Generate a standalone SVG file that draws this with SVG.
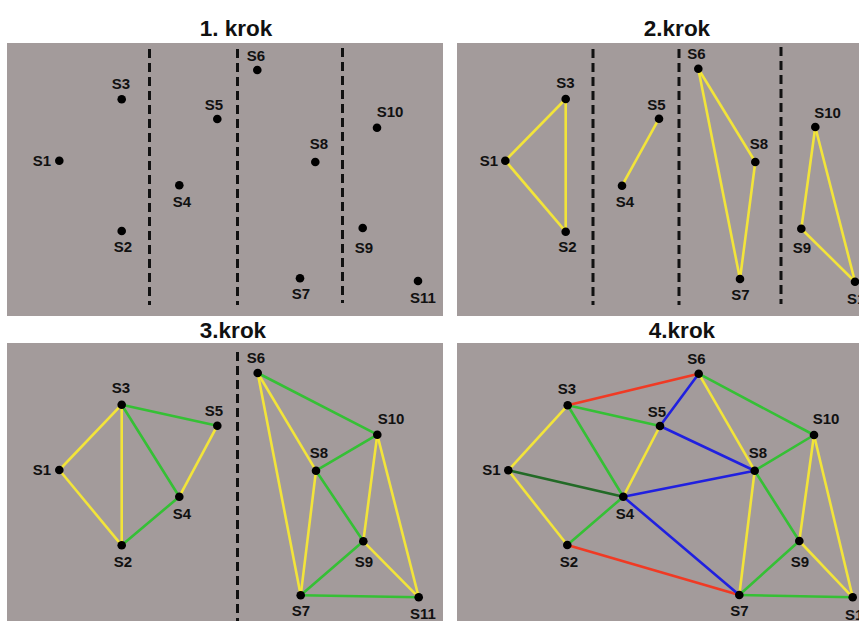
<svg xmlns="http://www.w3.org/2000/svg" width="859" height="621" viewBox="0 0 859 621">
<style>
.bg{fill:#a39b9b}
.t{font-family:"Liberation Sans",Arial,sans-serif;font-weight:bold;font-size:22.5px;fill:#111;text-anchor:middle}
.l{font-family:"Liberation Sans",Arial,sans-serif;font-weight:bold;font-size:15px;fill:#111;text-anchor:middle}
.d{stroke:#111;stroke-width:3;stroke-dasharray:9 5}
.n{fill:#000}
.e{stroke-width:2.6;stroke-linecap:round;fill:none}
.y{stroke:#f2e43a}
.g{stroke:#35c035}
.r{stroke:#f03a24}
.b{stroke:#2020e0}
.dg{stroke:#226a26}
</style>
<rect width="859" height="621" fill="#fff"/>
<g id="panel1">
<rect class="bg" x="7" y="43" width="436" height="273"/>
<text class="t" x="236" y="36">1. krok</text>
<g id="p1-dividers">
<line class="d" x1="149.5" y1="49" x2="149.5" y2="305"/>
<line class="d" x1="237.5" y1="49" x2="237.5" y2="305"/>
<line class="d" x1="342.5" y1="48" x2="342.5" y2="303"/>
</g>
<g id="p1-S1"><circle class="n" cx="59.3" cy="160.7" r="4.3"/><text class="l" x="42" y="166">S1</text></g>
<g id="p1-S2"><circle class="n" cx="121.7" cy="231" r="4.3"/><text class="l" x="123" y="252">S2</text></g>
<g id="p1-S3"><circle class="n" cx="121.7" cy="99.3" r="4.3"/><text class="l" x="121" y="89">S3</text></g>
<g id="p1-S4"><circle class="n" cx="179.3" cy="185.3" r="4.3"/><text class="l" x="182" y="207">S4</text></g>
<g id="p1-S5"><circle class="n" cx="217.3" cy="119" r="4.3"/><text class="l" x="214" y="110">S5</text></g>
<g id="p1-S6"><circle class="n" cx="257.3" cy="70" r="4.3"/><text class="l" x="256" y="61">S6</text></g>
<g id="p1-S7"><circle class="n" cx="300" cy="278.3" r="4.3"/><text class="l" x="301" y="299">S7</text></g>
<g id="p1-S8"><circle class="n" cx="315.3" cy="162" r="4.3"/><text class="l" x="319" y="149">S8</text></g>
<g id="p1-S9"><circle class="n" cx="362.7" cy="228" r="4.3"/><text class="l" x="364" y="253">S9</text></g>
<g id="p1-S10"><circle class="n" cx="377" cy="127.7" r="4.3"/><text class="l" x="390" y="117">S10</text></g>
<g id="p1-S11"><circle class="n" cx="418" cy="281" r="4.3"/><text class="l" x="423" y="303">S11</text></g>
</g>
<g id="panel2">
<rect class="bg" x="457" y="43" width="402" height="273"/>
<text class="t" x="677" y="36">2.krok</text>
<g id="p2-dividers">
<line class="d" x1="593" y1="49" x2="593" y2="305"/>
<line class="d" x1="679" y1="49" x2="679" y2="305"/>
<line class="d" x1="781" y1="47" x2="781" y2="304"/>
</g>
<g id="p2-connectors">
<line class="e y" x1="505.3" y1="160.7" x2="565.7" y2="99"/>
<line class="e y" x1="505.3" y1="160.7" x2="565.7" y2="231.7"/>
<line class="e y" x1="565.7" y1="99" x2="565.7" y2="231.7"/>
<line class="e y" x1="622" y1="185.7" x2="659" y2="118.7"/>
<line class="e y" x1="698.3" y1="68.7" x2="755.3" y2="162"/>
<line class="e y" x1="698.3" y1="68.7" x2="740" y2="279"/>
<line class="e y" x1="740" y1="279" x2="755.3" y2="162"/>
<line class="e y" x1="801.3" y1="228.7" x2="815.3" y2="127"/>
<line class="e y" x1="815.3" y1="127" x2="855" y2="281.7"/>
<line class="e y" x1="801.3" y1="228.7" x2="855" y2="281.7"/>
</g>
<g id="p2-S1"><circle class="n" cx="505.3" cy="160.7" r="4.3"/><text class="l" x="489" y="166">S1</text></g>
<g id="p2-S2"><circle class="n" cx="565.7" cy="231.7" r="4.3"/><text class="l" x="567.5" y="252">S2</text></g>
<g id="p2-S3"><circle class="n" cx="565.7" cy="99" r="4.3"/><text class="l" x="565.5" y="88">S3</text></g>
<g id="p2-S4"><circle class="n" cx="622" cy="185.7" r="4.3"/><text class="l" x="625" y="207">S4</text></g>
<g id="p2-S5"><circle class="n" cx="659" cy="118.7" r="4.3"/><text class="l" x="656.5" y="110">S5</text></g>
<g id="p2-S6"><circle class="n" cx="698.3" cy="68.7" r="4.3"/><text class="l" x="696.5" y="59">S6</text></g>
<g id="p2-S7"><circle class="n" cx="740" cy="279" r="4.3"/><text class="l" x="740.5" y="300">S7</text></g>
<g id="p2-S8"><circle class="n" cx="755.3" cy="162" r="4.3"/><text class="l" x="759" y="149">S8</text></g>
<g id="p2-S9"><circle class="n" cx="801.3" cy="228.7" r="4.3"/><text class="l" x="802" y="253">S9</text></g>
<g id="p2-S10"><circle class="n" cx="815.3" cy="127" r="4.3"/><text class="l" x="827.5" y="118">S10</text></g>
<g id="p2-S11"><circle class="n" cx="855" cy="281.7" r="4.3"/><text class="l" x="860" y="304">S11</text></g>
</g>
<g id="panel3">
<rect class="bg" x="7" y="343" width="436" height="278"/>
<text class="t" x="233" y="338">3.krok</text>
<g id="p3-dividers">
<line class="d" x1="237.5" y1="352" x2="237.5" y2="621"/>
</g>
<g id="p3-connectors">
<line class="e y" x1="59.3" y1="470" x2="121.7" y2="404.7"/>
<line class="e y" x1="59.3" y1="470" x2="121.7" y2="545.3"/>
<line class="e y" x1="121.7" y1="404.7" x2="121.7" y2="545.3"/>
<line class="e y" x1="179.3" y1="496.7" x2="217.3" y2="425.7"/>
<line class="e y" x1="257.7" y1="373" x2="316" y2="470.7"/>
<line class="e y" x1="257.7" y1="373" x2="300.7" y2="595.3"/>
<line class="e y" x1="300.7" y1="595.3" x2="316" y2="470.7"/>
<line class="e y" x1="363.3" y1="541.3" x2="377.3" y2="434.7"/>
<line class="e y" x1="377.3" y1="434.7" x2="418.7" y2="597.3"/>
<line class="e y" x1="363.3" y1="541.3" x2="418.7" y2="597.3"/>
<line class="e g" x1="121.7" y1="404.7" x2="217.3" y2="425.7"/>
<line class="e g" x1="121.7" y1="404.7" x2="179.3" y2="496.7"/>
<line class="e g" x1="121.7" y1="545.3" x2="179.3" y2="496.7"/>
<line class="e g" x1="257.7" y1="373" x2="377.3" y2="434.7"/>
<line class="e g" x1="316" y1="470.7" x2="377.3" y2="434.7"/>
<line class="e g" x1="316" y1="470.7" x2="363.3" y2="541.3"/>
<line class="e g" x1="300.7" y1="595.3" x2="363.3" y2="541.3"/>
<line class="e g" x1="300.7" y1="595.3" x2="418.7" y2="597.3"/>
</g>
<g id="p3-S1"><circle class="n" cx="59.3" cy="470" r="4.3"/><text class="l" x="42" y="475">S1</text></g>
<g id="p3-S2"><circle class="n" cx="121.7" cy="545.3" r="4.3"/><text class="l" x="123" y="567">S2</text></g>
<g id="p3-S3"><circle class="n" cx="121.7" cy="404.7" r="4.3"/><text class="l" x="121" y="393">S3</text></g>
<g id="p3-S4"><circle class="n" cx="179.3" cy="496.7" r="4.3"/><text class="l" x="182" y="519">S4</text></g>
<g id="p3-S5"><circle class="n" cx="217.3" cy="425.7" r="4.3"/><text class="l" x="214" y="416">S5</text></g>
<g id="p3-S6"><circle class="n" cx="257.7" cy="373" r="4.3"/><text class="l" x="256" y="363">S6</text></g>
<g id="p3-S7"><circle class="n" cx="300.7" cy="595.3" r="4.3"/><text class="l" x="301" y="616">S7</text></g>
<g id="p3-S8"><circle class="n" cx="316" cy="470.7" r="4.3"/><text class="l" x="319" y="458">S8</text></g>
<g id="p3-S9"><circle class="n" cx="363.3" cy="541.3" r="4.3"/><text class="l" x="364" y="567">S9</text></g>
<g id="p3-S10"><circle class="n" cx="377.3" cy="434.7" r="4.3"/><text class="l" x="391" y="424">S10</text></g>
<g id="p3-S11"><circle class="n" cx="418.7" cy="597.3" r="4.3"/><text class="l" x="423" y="619">S11</text></g>
</g>
<g id="panel4">
<rect class="bg" x="457" y="343" width="402" height="278"/>
<text class="t" x="682" y="338">4.krok</text>
<g id="p4-connectors">
<line class="e y" x1="508.3" y1="470.3" x2="567.7" y2="405.3"/>
<line class="e y" x1="508.3" y1="470.3" x2="567.3" y2="545"/>
<line class="e y" x1="623.3" y1="496.7" x2="660" y2="426"/>
<line class="e y" x1="698.7" y1="373.7" x2="754.7" y2="470.7"/>
<line class="e y" x1="739.3" y1="595" x2="754.7" y2="470.7"/>
<line class="e y" x1="799.3" y1="541" x2="814" y2="435"/>
<line class="e y" x1="814" y1="435" x2="852.7" y2="597.3"/>
<line class="e y" x1="799.3" y1="541" x2="852.7" y2="597.3"/>
<line class="e g" x1="567.7" y1="405.3" x2="660" y2="426"/>
<line class="e g" x1="567.7" y1="405.3" x2="623.3" y2="496.7"/>
<line class="e g" x1="567.3" y1="545" x2="623.3" y2="496.7"/>
<line class="e g" x1="698.7" y1="373.7" x2="814" y2="435"/>
<line class="e g" x1="754.7" y1="470.7" x2="814" y2="435"/>
<line class="e g" x1="754.7" y1="470.7" x2="799.3" y2="541"/>
<line class="e g" x1="739.3" y1="595" x2="799.3" y2="541"/>
<line class="e g" x1="739.3" y1="595" x2="852.7" y2="597.3"/>
<line class="e dg" x1="508.3" y1="470.3" x2="623.3" y2="496.7"/>
<line class="e r" x1="567.7" y1="405.3" x2="698.7" y2="373.7"/>
<line class="e r" x1="567.3" y1="545" x2="739.3" y2="595"/>
<line class="e b" x1="660" y1="426" x2="698.7" y2="373.7"/>
<line class="e b" x1="660" y1="426" x2="754.7" y2="470.7"/>
<line class="e b" x1="623.3" y1="496.7" x2="754.7" y2="470.7"/>
<line class="e b" x1="623.3" y1="496.7" x2="739.3" y2="595"/>
</g>
<g id="p4-S1"><circle class="n" cx="508.3" cy="470.3" r="4.3"/><text class="l" x="491.5" y="475">S1</text></g>
<g id="p4-S2"><circle class="n" cx="567.3" cy="545" r="4.3"/><text class="l" x="569" y="567">S2</text></g>
<g id="p4-S3"><circle class="n" cx="567.7" cy="405.3" r="4.3"/><text class="l" x="567" y="394">S3</text></g>
<g id="p4-S4"><circle class="n" cx="623.3" cy="496.7" r="4.3"/><text class="l" x="625" y="519">S4</text></g>
<g id="p4-S5"><circle class="n" cx="660" cy="426" r="4.3"/><text class="l" x="657" y="417">S5</text></g>
<g id="p4-S6"><circle class="n" cx="698.7" cy="373.7" r="4.3"/><text class="l" x="696.5" y="364">S6</text></g>
<g id="p4-S7"><circle class="n" cx="739.3" cy="595" r="4.3"/><text class="l" x="739.5" y="616">S7</text></g>
<g id="p4-S8"><circle class="n" cx="754.7" cy="470.7" r="4.3"/><text class="l" x="758" y="458">S8</text></g>
<g id="p4-S9"><circle class="n" cx="799.3" cy="541" r="4.3"/><text class="l" x="800" y="567">S9</text></g>
<g id="p4-S10"><circle class="n" cx="814" cy="435" r="4.3"/><text class="l" x="826" y="424">S10</text></g>
<g id="p4-S11"><circle class="n" cx="852.7" cy="597.3" r="4.3"/><text class="l" x="858" y="620">S11</text></g>
</g>
</svg>
